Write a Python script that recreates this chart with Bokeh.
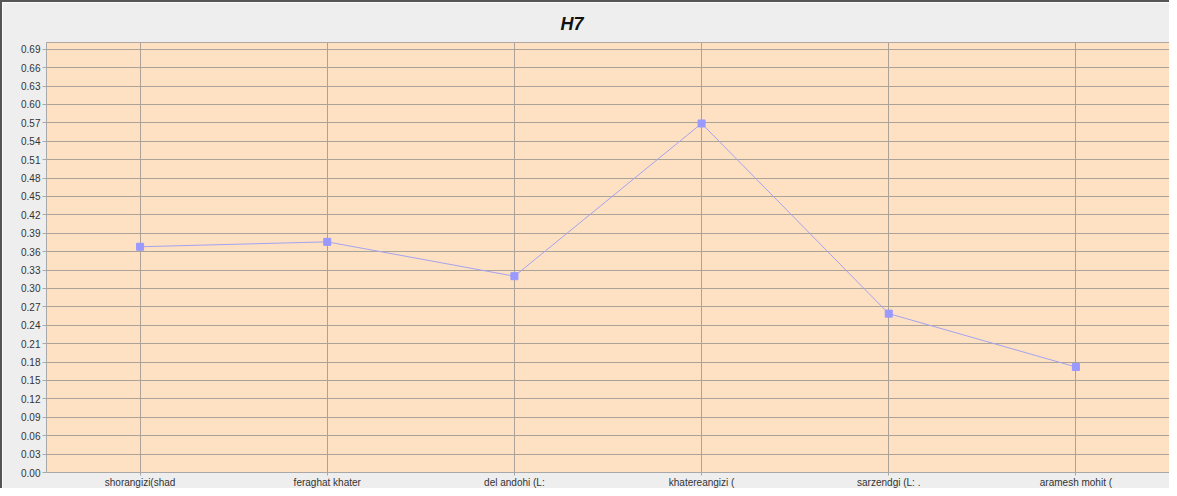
from bokeh.plotting import figure
from bokeh.models import Range1d, FixedTicker, ColumnDataSource, NumeralTickFormatter
from bokeh.embed import file_html
from bokeh.resources import INLINE

categories = ["shorangizi(shad", "feraghat khater", "del andohi (L:",
              "khatereangizi (", "sarzendgi (L: .", "aramesh mohit ("]
values = [0.368, 0.376, 0.320, 0.569, 0.259, 0.172]
y_ticks = [0.00, 0.03, 0.06, 0.09, 0.12, 0.15, 0.18, 0.21, 0.24, 0.27, 0.30,
           0.33, 0.36, 0.39, 0.42, 0.45, 0.48, 0.51, 0.54, 0.57, 0.60, 0.63,
           0.66, 0.69]

src = ColumnDataSource(dict(cat=categories, val=values))

p = figure(x_range=categories, y_range=Range1d(0, 0.701),
           width=1169, height=488, output_backend="svg", toolbar_location=None,
           title="H7", min_border_left=44, min_border_right=2,
           min_border_top=40, min_border_bottom=0)
p.x_range.range_padding = 0

p.title.align = "left"
p.title.offset = 514
p.title.vertical_align = "middle"
p.title.text_font = "Liberation Sans"
p.title.text_font_style = "bold italic"
p.title.text_font_size = "18px"
p.title.text_color = "#111111"
p.title.standoff = 16

p.background_fill_color = "#FEE0C2"
p.border_fill_color = "#EEEEEE"
p.outline_line_color = "#B0A8A0"
p.styles = {"border-top": "2px solid #555555", "border-left": "2px solid #555555"}

grid_col = "#ABA397"
p.xgrid.grid_line_color = grid_col
p.ygrid.grid_line_color = grid_col
p.ygrid.ticker = FixedTicker(ticks=y_ticks)

p.yaxis.ticker = FixedTicker(ticks=y_ticks)
p.yaxis.formatter = NumeralTickFormatter(format="0.00")
for ax in (p.xaxis[0], p.yaxis[0]):
    ax.axis_line_color = "#A8A8A8"
    ax.major_tick_line_color = "#A8A8A8"
    ax.major_tick_out = 4
    ax.major_tick_in = 0
    ax.minor_tick_line_color = None
    ax.major_label_text_font = "Liberation Sans"
    ax.major_label_text_font_size = "10px"
    ax.major_label_text_color = "#333333"
    ax.major_label_standoff = 2
p.xaxis[0].major_tick_out = 3
p.xaxis[0].major_label_standoff = 1

p.line("cat", "val", source=src, line_color="#A3A3F0", line_width=1)
p.scatter("cat", "val", source=src, marker="square", size=7,
          fill_color="#9999FF", line_color="#9999FF")

open("out.html", "w").write(file_html(p, INLINE))
